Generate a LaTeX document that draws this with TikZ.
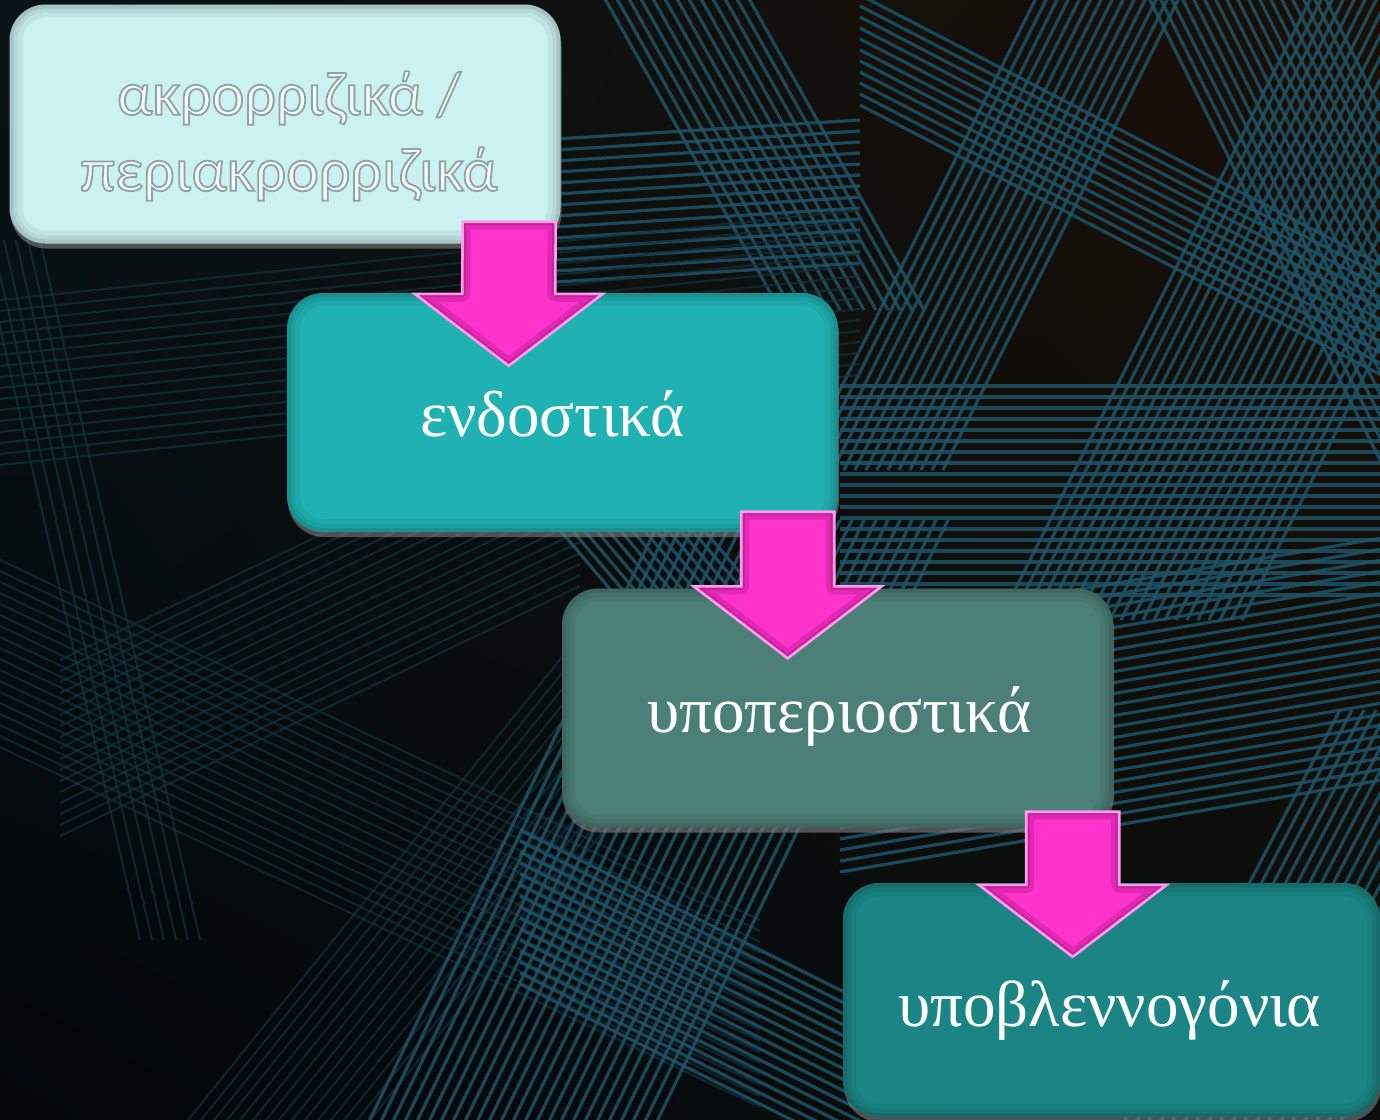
\documentclass[tikz,border=0pt]{standalone}
\usepackage{fontspec}
\setmainfont{Liberation Serif}
\newfontfamily\lightfont{Carlito}
\usetikzlibrary{calc,shadows,shadings}

\definecolor{bgUL}{HTML}{081317}
\definecolor{bgUR}{HTML}{1A0E04}
\definecolor{bgLL}{HTML}{02060A}
\definecolor{bgLR}{HTML}{0A0F0E}
\definecolor{lineBright}{HTML}{1E5468}
\definecolor{lineDim}{HTML}{12333F}
\definecolor{boxPale}{HTML}{CBF1F1}
\definecolor{boxTeal}{HTML}{20B2B2}
\definecolor{boxGrey}{HTML}{4C7F77}
\definecolor{boxDeep}{HTML}{1B8585}
\definecolor{arrowFill}{HTML}{FF33CC}
\definecolor{arrowEdge}{HTML}{FF9CEC}
\definecolor{arrowDark}{HTML}{7A0A5C}
\definecolor{paleText}{HTML}{F2F9F9}

% pale lettering with a thin grey outline (PDF text render mode 2)
\newcommand\embossed[1]{\special{pdf:literal direct 2 Tr 1.8 w 0.56 0.64 0.64 RG}#1\special{pdf:literal direct 0 Tr}}

% outline of a downward block arrow from a shaft top (#1) to a tip (#2)
\newcommand\arrowoutline[2]{($(#1)+(-46.5,0)$) -- ($(#1)+(46.5,0)$) -- ($(#2)+(46.5,-72)$) -- ($(#2)+(94,-72)$) -- (#2) -- ($(#2)+(-94,-72)$) -- ($(#2)+(-46.5,-72)$) -- cycle}
\newcommand\blockarrow[2]{%
  \begin{scope}
    \clip \arrowoutline{#1}{#2};
    \fill[arrowFill] \arrowoutline{#1}{#2};
    \draw[arrowDark, opacity=0.22, line width=16pt, line join=round] \arrowoutline{#1}{#2};
    \draw[arrowDark, opacity=0.25, line width=7pt, line join=round] \arrowoutline{#1}{#2};
  \end{scope}
  \draw[arrowEdge, line width=2.6pt, line join=miter] \arrowoutline{#1}{#2};
}

\tikzset{
  ln/.style={lineBright, line width=3.2pt, opacity=0.85},
  lndim/.style={lineDim, line width=2.2pt, opacity=0.65},
  stagebox/.style={rounded corners=36pt, minimum width=551pt, minimum height=239pt,
    inner sep=0pt,
    drop shadow={opacity=0.6, shadow xshift=1pt, shadow yshift=-5pt},
    path picture={
      \foreach \w/\o in {26/0.05, 16/0.06, 8/0.08}
        \draw[black, opacity=\o, line width=\w pt, rounded corners=36pt]
          (path picture bounding box.south west) rectangle (path picture bounding box.north east);
    }},
  lighttext/.style={text=paleText, align=center, font=\lightfont\fontsize{62}{70}\selectfont},
  darktext/.style={text=white, font=\fontsize{65}{70}\selectfont},
}

\begin{document}
\begin{tikzpicture}[x=1pt, y=-1pt]
\useasboundingbox (0,0) rectangle (1380,1119);

% background: dark ground crossed by bands of thin parallel lines
\begin{scope}
  \clip (0,0) rectangle (1380,1119);
  \shade[upper left=bgUL, upper right=bgUR, lower left=bgLL, lower right=bgLR] (0,0) rectangle (1380,1119);
  % steep rising bands, upper right
  \foreach \i in {0,...,13} \draw[ln] ($(800,470)+\i*(11,0)$) -- ++(270,-540);
  \foreach \i in {0,...,22} \draw[ln] ($(1000,620)+\i*(11,0)$) -- ++(330,-660);
  % falling bands across the top right
  \foreach \i in {0,...,10} \draw[ln] ($(860,-5)+\i*(0,11)$) -- ++(560,290);
  \foreach \i in {0,...,16} \draw[ln] ($(1140,-20)+\i*(11,0)$) -- ++(260,520);
  % horizontal band on the right
  \foreach \i in {0,...,19} \draw[ln] ($(840,386)+\i*(0,11)$) -- ++(560,0);
  % gently rising band, lower right
  \foreach \i in {0,...,22} \draw[ln] ($(840,630)+\i*(0,11)$) -- ++(560,-95);
  \foreach \i in {0,...,18} \draw[ln] ($(1120,1130)+\i*(12,0)$) -- ++(220,-420);
  % band behind the first box, top middle
  \foreach \i in {0,...,13} \draw[ln] ($(540,140)+\i*(0,11)$) -- ++(320,-20);
  \foreach \i in {0,...,12} \draw[ln] ($(600,-10)+\i*(12,0)$) -- ++(180,320);
  % left side, faint
  \foreach \i in {0,...,15} \draw[lndim] ($(0,300)+\i*(0,11)$) -- ++(860,-90);
  \foreach \i in {0,...,5} \draw[lndim] ($(-20,240)+\i*(12,0)$) -- ++(160,700);
  \foreach \i in {0,...,17} \draw[lndim] ($(0,560)+\i*(0,11)$) -- ++(760,360);
  \foreach \i in {0,...,16} \draw[lndim] ($(60,660)+\i*(0,11)$) -- ++(520,-250);
  \foreach \i in {0,...,14} \draw[lndim] ($(180,1130)+\i*(13,0)$) -- ++(420,-520);
  % lower middle, rising and crossing
  \foreach \i in {0,...,24} \draw[ln] ($(360,1140)+\i*(12,0)$) -- ++(300,-620);
  \foreach \i in {0,...,14} \draw[ln] ($(520,830)+\i*(0,11)$) -- ++(340,170);
  \foreach \i in {0,...,12} \draw[ln] ($(560,530)+\i*(12,0)$) -- ++(220,260);
\end{scope}

% stages
\node[stagebox, fill=boxPale] (b1) at (285,124) {};
\node[stagebox, fill=boxTeal] (b2) at (562.5,412.5) {};
\node[stagebox, fill=boxGrey] (b3) at (837.5,708) {};
\node[stagebox, fill=boxDeep, minimum width=537pt, minimum height=234pt] (b4) at (1111.5,1000) {};

% stage labels
\node[lighttext] (t1) at ($(b1.center)+(4,12)$)
  {\embossed{ακρορριζικά /}\\[6pt]\embossed{περιακρορριζικά}};
\node[darktext] (t2) at ($(b2.center)+(-10,1)$) {ενδοστικά};
\node[darktext] (t3) at ($(b3.center)+(2,8)$) {υποπεριοστικά};
\node[darktext] (t4) at ($(b4.center)+(-2,10)$) {υποβλεννογόνια};

% arrows between stages
\coordinate (a1s) at ($(b1.south east)+(-51.5,-22)$);
\coordinate (a1e) at ($(b2.north east)+(-329.5,73)$);
\coordinate (a2s) at ($(b2.south east)+(-50.5,-20.5)$);
\coordinate (a2e) at ($(b3.north east)+(-325.5,70)$);
\coordinate (a3s) at ($(b3.south east)+(-40.5,-16)$);
\coordinate (a3e) at ($(b4.north east)+(-307.5,74)$);
\blockarrow{a1s}{a1e}
\blockarrow{a2s}{a2e}
\blockarrow{a3s}{a3e}
\end{tikzpicture}
\end{document}
